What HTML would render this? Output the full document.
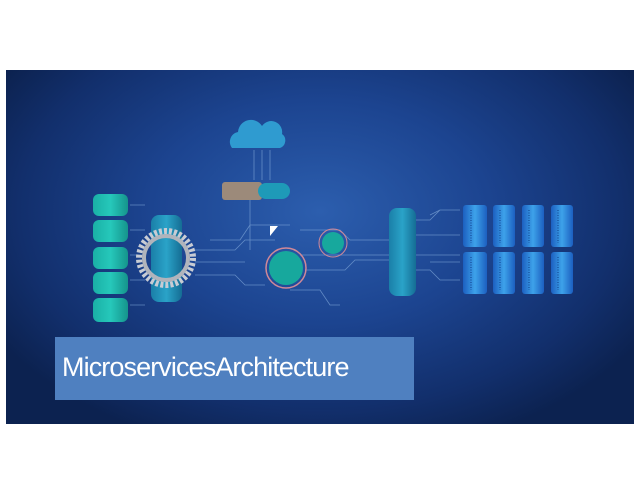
<!DOCTYPE html>
<html><head><style>
body{margin:0;width:640px;height:495px;background:#fff;position:relative;overflow:hidden;font-family:"Liberation Sans",sans-serif}
#p{position:absolute;left:6px;top:70px;width:628px;height:354px;background:radial-gradient(ellipse 60% 70% at 50% 40%,#2c5eae 0%,#1c4490 45%,#122f6c 80%,#0c2250 100%)}
#t{position:absolute;left:55px;top:337px;width:359px;height:63px;background:#4f80c0;}
#t span{position:absolute;left:7px;top:15px;color:#fff;font-size:27px;letter-spacing:-0.9px;white-space:nowrap}
</style></head><body>
<div id="p"></div>
<svg width="640" height="495" style="position:absolute;left:0;top:0">
<defs>
<linearGradient id="cy" x1="0" x2="1"><stop offset="0" stop-color="#1ab0a6"/><stop offset=".5" stop-color="#26c8ba"/><stop offset="1" stop-color="#15948c"/></linearGradient>
<linearGradient id="cb" x1="0" x2="1"><stop offset="0" stop-color="#1a7fa8"/><stop offset=".5" stop-color="#2aa3c8"/><stop offset="1" stop-color="#156d94"/></linearGradient>
<linearGradient id="sv" x1="0" x2="1"><stop offset="0" stop-color="#1c5fc0"/><stop offset=".5" stop-color="#3da2ea"/><stop offset="1" stop-color="#1c5fc0"/></linearGradient>
</defs>
<g stroke="#7fa6d8" stroke-width="0.8" fill="none" opacity=".7">
<path d="M130 205h15M130 230h15M130 255h15M130 280h15M130 305h15"/>
<path d="M195 250h40l10-10h30M195 262h50M195 275h40l10 10h20M210 240h30l10-15h40M300 230h40l10 10h40M305 270h40l10-10h35M300 255h90M290 290h30l10 15h10M250 200v50M262 150v30M254 150v30M270 150v30"/>
<path d="M415 220h15l10-10h20M415 235h45M415 270h15l10 10h20M415 255h45M430 215l10-5M430 262h30"/>
</g>
<path d="M232 148a10 10 0 0 1 6-16a13 13 0 0 1 24-6a11 11 0 0 1 20 8a8 8 0 0 1 -2 14z" fill="#2f9bd0"/>
<rect x="222" y="182" width="40" height="18" rx="3" fill="#9c8a7a"/>
<rect x="258" y="183" width="32" height="16" rx="8" fill="#1e9ab8"/>
<polygon points="270,226 278,226 270,236" fill="#fff"/>
<g fill="url(#cy)">
<rect x="93" y="194" width="35" height="22" rx="6"/><rect x="93" y="220" width="35" height="22" rx="6"/><rect x="93" y="247" width="35" height="22" rx="6"/><rect x="93" y="272" width="35" height="22" rx="6"/><rect x="93" y="298" width="35" height="24" rx="6"/>
</g>
<rect x="151" y="215" width="31" height="87" rx="8" fill="url(#cb)"/>
<circle cx="166" cy="258" r="27" fill="none" stroke="#c8ccd4" stroke-width="6" stroke-dasharray="3 2"/>
<circle cx="166" cy="258" r="22" fill="none" stroke="#b0b4bc" stroke-width="4"/>
<circle cx="286" cy="268" r="20" fill="none" stroke="#d08898" stroke-width="1.5"/>
<circle cx="286" cy="268" r="17" fill="#17a89d"/>
<circle cx="333" cy="243" r="14" fill="none" stroke="#d08898" stroke-width="1"/>
<circle cx="333" cy="243" r="11" fill="#17a89d"/>
<rect x="389" y="208" width="27" height="88" rx="8" fill="url(#cb)"/>
<g fill="url(#sv)">
<rect x="463" y="205" width="24" height="42" rx="3"/><rect x="493" y="205" width="22" height="42" rx="3"/><rect x="522" y="205" width="22" height="42" rx="3"/><rect x="551" y="205" width="22" height="42" rx="3"/>
<rect x="463" y="252" width="24" height="42" rx="3"/><rect x="493" y="252" width="22" height="42" rx="3"/><rect x="522" y="252" width="22" height="42" rx="3"/><rect x="551" y="252" width="22" height="42" rx="3"/>
</g>
<g stroke="#0f3f8a" stroke-width="1" stroke-dasharray="1 1.5">
<path d="M471 210v33M500 210v33M529 210v33M558 210v33M471 257v33M500 257v33M529 257v33M558 257v33"/>
</g>
</svg>
<div id="t"><span>MicroservicesArchitecture</span></div>
</body></html>
